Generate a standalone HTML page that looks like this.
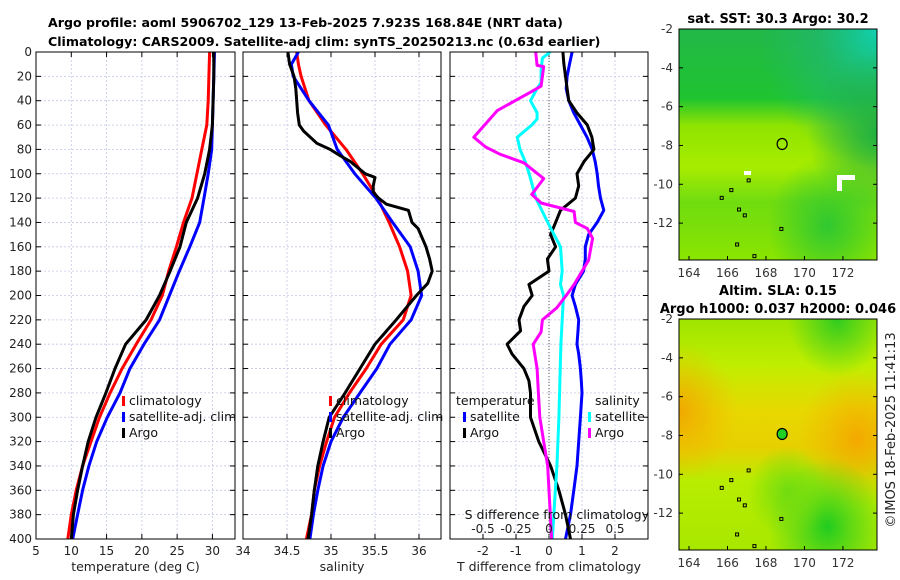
<!DOCTYPE html>
<html><head><meta charset="utf-8"><style>
html,body{margin:0;padding:0;background:#fff;}
svg{display:block;font-family:"DejaVu Sans","Liberation Sans",sans-serif;}
</style></head><body>
<svg id="fig" width="900" height="580" viewBox="0 0 900 580">
<defs>
<linearGradient id="sstBase" x1="0" y1="0" x2="0" y2="1">
<stop offset="0" stop-color="#22b848"/><stop offset="0.3" stop-color="#1fc430"/><stop offset="0.42" stop-color="#90e400"/><stop offset="0.6" stop-color="#a8ec00"/><stop offset="0.75" stop-color="#70dc10"/><stop offset="1" stop-color="#8ae400"/>
</linearGradient>
<radialGradient id="sstTeal" cx="1" cy="0" r="0.6"><stop offset="0" stop-color="#10d0b0"/><stop offset="0.5" stop-color="#20b870" stop-opacity="0.7"/><stop offset="1" stop-color="#20b870" stop-opacity="0"/></radialGradient>
<radialGradient id="sstRight" cx="1" cy="0.45" r="0.35"><stop offset="0" stop-color="#20b040"/><stop offset="1" stop-color="#20b040" stop-opacity="0"/></radialGradient>
<radialGradient id="sstLow" cx="0.75" cy="0.85" r="0.3"><stop offset="0" stop-color="#30c830"/><stop offset="1" stop-color="#30c830" stop-opacity="0"/></radialGradient>
<linearGradient id="slaBase" x1="0" y1="0" x2="0" y2="1">
<stop offset="0" stop-color="#9ee400"/><stop offset="0.2" stop-color="#c0ee00"/><stop offset="0.4" stop-color="#e8d800"/><stop offset="0.55" stop-color="#e8d000"/><stop offset="0.7" stop-color="#b8ec00"/><stop offset="1" stop-color="#a8e800"/>
</linearGradient>
<radialGradient id="slaOrL" cx="0" cy="0.4" r="0.3"><stop offset="0" stop-color="#f0a800"/><stop offset="1" stop-color="#f0b800" stop-opacity="0"/></radialGradient>
<radialGradient id="slaOrR" cx="0.9" cy="0.52" r="0.3"><stop offset="0" stop-color="#f4a800"/><stop offset="1" stop-color="#f0b800" stop-opacity="0"/></radialGradient>
<radialGradient id="slaGrB" cx="0.75" cy="0.9" r="0.3"><stop offset="0" stop-color="#20cc20"/><stop offset="1" stop-color="#40d020" stop-opacity="0"/></radialGradient>
<radialGradient id="slaGrT" cx="0.8" cy="0" r="0.25"><stop offset="0" stop-color="#30cc20"/><stop offset="1" stop-color="#40d020" stop-opacity="0"/></radialGradient>
<radialGradient id="slaGrM" cx="0.55" cy="0.75" r="0.2"><stop offset="0" stop-color="#70dc10"/><stop offset="1" stop-color="#70dc10" stop-opacity="0"/></radialGradient>
</defs>
<text x="48" y="27" font-size="12.6" font-weight="bold">Argo profile: aoml 5906702_129 13-Feb-2025 7.923S 168.84E (NRT data)</text>
<text x="48" y="46" font-size="12.6" font-weight="bold">Climatology: CARS2009. Satellite-adj clim: synTS_20250213.nc (0.63d earlier)</text>
<g id="panels"></g>
<g id="maps"></g>
</svg>
<script>
// ---------- data ----------
const depths=[0,20,40,60,80,100,120,140,160,180,200,220,240,260,280,300,320,340,360,380,400];
const tempClim=[29.6,29.5,29.4,29.2,28.5,27.8,27.1,25.9,24.9,23.8,22.9,21.3,19.2,17.2,15.5,14.0,12.8,11.6,10.7,10.0,9.5];
const tempSat=[30.3,30.2,30.1,30.0,29.9,29.4,28.8,28.2,26.8,25.3,23.9,22.5,20.3,18.3,16.9,15.1,13.6,12.5,11.6,10.9,10.2];
const tempArgo=[30.2,30.2,30.1,30.0,29.6,28.9,27.9,26.3,25.4,24.0,22.5,20.6,17.7,16.2,14.9,13.5,12.4,11.6,10.9,10.3,10.0];
const salDepths=[0,10,20,40,60,80,100,120,140,160,180,200,220,240,260,280,300,320,340,360,380,400];
const salClim=[34.61,34.63,34.66,34.75,34.94,35.17,35.36,35.53,35.66,35.78,35.87,35.91,35.82,35.57,35.40,35.21,35.04,34.95,34.87,34.81,34.78,34.72];
const salSat=[34.63,34.55,34.57,34.75,34.97,35.07,35.27,35.51,35.70,35.90,35.99,36.03,35.91,35.67,35.52,35.33,35.14,35.00,34.91,34.85,34.80,34.76];
const argoSalDepths=[0,10,20,30,50,60,65,75,80,85,90,100,103,110,115,120,125,130,140,145,160,170,180,190,200,220,240,260,280,300,320,340,360,380,400];
const salArgo=[34.51,34.53,34.58,34.60,34.62,34.64,34.69,34.84,34.99,35.10,35.22,35.39,35.50,35.48,35.48,35.54,35.63,35.88,35.92,35.99,36.08,36.12,36.15,36.10,35.97,35.74,35.50,35.33,35.16,34.98,34.91,34.85,34.81,34.78,34.74];
const dTDepths=[0,10,20,30,40,50,60,70,80,90,100,110,120,130,140,150,160,170,180,191,200,209,220,229,240,248,260,270,280,300,320,340,360,380,400];
const dTSat=[0.70,0.62,0.55,0.52,0.60,0.75,0.95,1.15,1.31,1.40,1.46,1.50,1.56,1.66,1.46,1.20,1.10,1.10,1.05,0.80,0.70,0.80,0.90,0.88,0.85,0.90,0.95,0.98,1.00,0.95,0.90,0.85,0.75,0.65,0.50];
const dTArgo=[0.42,0.45,0.50,0.55,0.60,0.85,1.16,1.30,1.36,1.06,0.85,0.90,0.80,0.35,0.20,0.05,0.20,-0.05,0.00,-0.61,-0.51,-0.76,-0.91,-0.86,-1.27,-1.12,-0.76,-0.61,-0.56,-0.56,-0.31,0.05,0.30,0.50,0.65];
const dSDepths=[0,5,15,25,30,40,50,55,60,70,80,90,100,120,140,160,180,191,200,220,240,300,340,380,400];
const dSSat=[0.01,-0.05,-0.06,-0.06,-0.09,-0.14,-0.09,-0.09,-0.13,-0.24,-0.22,-0.18,-0.15,-0.10,-0.01,0.087,0.10,0.087,0.11,0.10,0.09,0.075,0.06,0.036,0.025];
const dSArgoDepths=[0,1,11,12,28,33,48,70,78,84,91,104,117,124,131,140,145,153,171,191,200,210,220,230,240,260,280,300,320,340,360,380,400];
const dSArgo=[-0.10,-0.10,-0.09,-0.04,-0.06,-0.14,-0.39,-0.57,-0.48,-0.37,-0.19,-0.04,-0.13,-0.06,0.19,0.20,0.29,0.33,0.30,0.19,0.13,0.06,-0.05,-0.06,-0.12,-0.09,-0.08,-0.07,-0.04,-0.01,0.0,0.01,0.02];
const depthTicks=[0,20,40,60,80,100,120,140,160,180,200,220,240,260,280,300,320,340,360,380,400];
const tempTicks=[5,10,15,20,25,30];
const salTicks=[34,34.5,35,35.5,36];
const salTickLabels=["34","34.5","35","35.5","36"];
const dTTicks=[-2,-1,0,1,2];
const dSTicks=[-0.5,-0.25,0,0.25,0.5];
const dSTickLabels=["-0.5","-0.25","0","0.25","0.5"];
const lonTicks=[164,166,168,170,172];
const latTicks=[-2,-4,-6,-8,-10,-12];
const argoLon=[168.84];
const argoLat=[-7.923];

const NS="http://www.w3.org/2000/svg";
function mk(tag,attrs,parent,name,inter){const e=document.createElementNS(NS,tag);for(const k in attrs)e.setAttribute(k,attrs[k]);


parent.appendChild(e);return e;}
const Y0=52,Y1=539;
function yScale(d){return Y0+(d/400)*(Y1-Y0);}
const G=document.getElementById('panels');

function panel(name,x0,x1,xmin,xmax,ticks,labels,showY,xlabel){
  const g=mk('g',{},G,name,false);
  const xs=v=>x0+(v-xmin)/(xmax-xmin)*(x1-x0);
  mk('rect',{x:x0,y:Y0,width:x1-x0,height:Y1-Y0,fill:'#fff'},g,name+'-background',false);
  depthTicks.forEach((d,i)=>{if(i>0&&i<depthTicks.length-1)mk('line',{x1:x0,x2:x1,y1:yScale(d),y2:yScale(d),stroke:'#c4c8e4','stroke-width':0.8,'stroke-dasharray':'2,2'},g,'y-gridline',false);});
  ticks.forEach(t=>{const x=xs(t);mk('line',{x1:x,x2:x,y1:Y0,y2:Y1,stroke:'#c4c8e4','stroke-width':0.8,'stroke-dasharray':'2,2'},g,'x-gridline',false);
    mk('line',{x1:x,x2:x,y1:Y1,y2:Y1-5,stroke:'#000'},g,'x-tick',false);mk('line',{x1:x,x2:x,y1:Y0,y2:Y0+5,stroke:'#000'},g,'x-tick',false);
    const tx=mk('text',{x:x,y:Y1+16,'font-size':12,'text-anchor':'middle',fill:'#222'},g,'x-tick-label',false);tx.textContent=labels[ticks.indexOf(t)];});
  depthTicks.forEach(d=>{const y=yScale(d);mk('line',{x1:x0,x2:x0+5,y1:y,y2:y,stroke:'#000'},g,'y-tick',false);mk('line',{x1:x1,x2:x1-5,y1:y,y2:y,stroke:'#000'},g,'y-tick',false);
    if(showY){const t=mk('text',{x:x0-4,y:y+4,'font-size':12,'text-anchor':'end',fill:'#222'},g,'y-tick-label',false);t.textContent=d;}});
  const xl=mk('text',{x:(x0+x1)/2,y:Y1+32,'font-size':12.5,'text-anchor':'middle',fill:'#222'},g,name+'-x-axis-title',false);xl.textContent=xlabel;
  return {g,xs};
}
function line(p,xs,vals,ds,color,name,w){
  const pts=vals.map((v,i)=>xs(v).toFixed(1)+','+yScale(ds[i]).toFixed(1)).join(' ');
  mk('polyline',{points:pts,fill:'none',stroke:color,'stroke-width':w||3,'stroke-linejoin':'round'},p.g,name,false);
}
function frame(p,x0,x1){mk('rect',{x:x0,y:Y0,width:x1-x0,height:Y1-Y0,fill:'none',stroke:'#000','stroke-width':1},p.g,'axes-frame',false);}
function legendEntry(g,x,y,color,label,name){mk('rect',{x:x-2,y:y-9,width:3,height:10,fill:color},g,name+'-marker',false);
  const t=mk('text',{x:x+5,y:y,'font-size':12.5,fill:'#111'},g,name,false);t.textContent=label;}

const p1=panel('temperature-panel',36,235,5,33.2,tempTicks,tempTicks.map(String),true,'temperature (deg C)');
line(p1,p1.xs,tempClim,depths,'#ff0000','temp-climatology-line');
line(p1,p1.xs,tempSat,depths,'#0000ff','temp-satellite-line');
line(p1,p1.xs,tempArgo,depths,'#000','temp-argo-line');
frame(p1,36,235);
legendEntry(p1.g,124,405,'#ff0000','climatology','legend-climatology');
legendEntry(p1.g,124,421,'#0000ff','satellite-adj. clim','legend-satellite');
legendEntry(p1.g,124,437,'#000','Argo','legend-argo');

const p2=panel('salinity-panel',243,441,34,36.25,salTicks,salTickLabels,false,'salinity');
line(p2,p2.xs,salClim,salDepths,'#ff0000','sal-climatology-line');
line(p2,p2.xs,salSat,salDepths,'#0000ff','sal-satellite-line');
line(p2,p2.xs,salArgo,argoSalDepths,'#000','sal-argo-line');
frame(p2,243,441);
legendEntry(p2.g,331,405,'#ff0000','climatology','legend-climatology');
legendEntry(p2.g,331,421,'#0000ff','satellite-adj. clim','legend-satellite');
legendEntry(p2.g,331,437,'#000','Argo','legend-argo');

const p3=panel('difference-panel',450,648,-3,3,dTTicks,dTTicks.map(String),false,'T difference from climatology');
const sx=v=>450+(v+0.75)/1.5*198;
mk('line',{x1:p3.xs(0),x2:p3.xs(0),y1:Y0,y2:Y1,stroke:'#555','stroke-width':1,'stroke-dasharray':'1,2'},p3.g,'zero-line',false);
line(p3,p3.xs,dTSat,dTDepths,'#0000ff','dT-satellite-line');
line(p3,p3.xs,dTArgo,dTDepths,'#000','dT-argo-line');
line(p3,sx,dSSat,dSDepths,'#00ffff','dS-satellite-line');
line(p3,sx,dSArgo,dSArgoDepths,'#ff00ff','dS-argo-line');
frame(p3,450,648);
dSTicks.forEach((t,i)=>{const tx=mk('text',{x:sx(t),y:533,'font-size':12,'text-anchor':'middle',fill:'#222'},p3.g,'s-diff-tick-label',false);tx.textContent=dSTickLabels[i];});
{const t=mk('text',{x:649,y:519,'font-size':12.5,'text-anchor':'end',fill:'#111'},p3.g,'s-diff-axis-title',false);t.textContent='S difference from climatology';}
{const t=mk('text',{x:456,y:405,'font-size':12.5,fill:'#111'},p3.g,'legend-temperature-heading',false);t.textContent='temperature';}
{const t=mk('text',{x:595,y:405,'font-size':12.5,fill:'#111'},p3.g,'legend-salinity-heading',false);t.textContent='salinity';}
legendEntry(p3.g,465,421,'#0000ff','satellite','legend-t-satellite');
legendEntry(p3.g,465,437,'#000','Argo','legend-t-argo');
legendEntry(p3.g,590,421,'#00ffff','satellite','legend-s-satellite');
legendEntry(p3.g,590,437,'#ff00ff','Argo','legend-s-argo');

const M=document.getElementById('maps');
function map(name,top,titles,layers,filled){
  const g=mk('g',{},M,name,false);
  const x0=679,x1=877,y1=top+231;
  const lx=v=>x0+(v-163.48)/(173.77-163.48)*(x1-x0);
  const ly=v=>top+(-2-v)/(11.9)*(y1-top);
  layers.forEach(l=>mk('rect',{x:x0,y:top,width:x1-x0,height:y1-top,fill:'url(#'+l+')'},g,name+'-field',false));
  [[165.7,-10.7],[166.2,-10.3],[166.6,-11.3],[166.9,-11.6],[167.1,-9.8],[166.5,-13.1],[167.4,-13.7],[168.8,-12.3]].forEach(c=>mk('rect',{x:lx(c[0])-1.5,y:ly(c[1])-1.5,width:3,height:3,fill:'none',stroke:'#000','stroke-width':1},g,'island',false));
  mk('rect',{x:x0,y:top,width:x1-x0,height:y1-top,fill:'none',stroke:'#000'},g,name+'-frame',false);
  lonTicks.forEach(t=>{const x=lx(t);mk('line',{x1:x,x2:x,y1:y1,y2:y1-4,stroke:'#000'},g,'lon-tick',false);
    const tx=mk('text',{x:x,y:y1+17,'font-size':12,'text-anchor':'middle',fill:'#333'},g,'lon-tick-label',false);tx.textContent=t;});
  latTicks.forEach(t=>{const y=ly(t);mk('line',{x1:x0,x2:x0+4,y1:y,y2:y,stroke:'#000'},g,'lat-tick',false);mk('line',{x1:x1,x2:x1-4,y1:y,y2:y,stroke:'#000'},g,'lat-tick',false);
    const tx=mk('text',{x:x0-6,y:y+4,'font-size':12,'text-anchor':'end',fill:'#333'},g,'lat-tick-label',false);tx.textContent=t;});
  mk('ellipse',{cx:lx(argoLon[0]),cy:ly(argoLat[0]),rx:5,ry:5.5,fill:filled?'#22d022':'none',stroke:'#000','stroke-width':1.2},g,'argo-location-marker',false);
  titles.forEach((t,i)=>{const tx=mk('text',{x:778,y:top-(titles.length-1-i)*18-6,'font-size':13,'font-weight':'bold','text-anchor':'middle'},g,name+'-title',false);tx.textContent=t;});
}
map('sst-map',29,['sat. SST: 30.3 Argo: 30.2'],['sstBase','sstTeal','sstRight','sstLow'],false);
{const g=M;mk('rect',{x:744,y:171,width:7,height:4,fill:'#fff'},g,'missing-data',false);mk('rect',{x:837,y:175,width:18,height:5,fill:'#fff'},g,'missing-data',false);mk('rect',{x:837,y:175,width:5,height:16,fill:'#fff'},g,'missing-data',false);}
map('sla-map',319,['Altim. SLA: 0.15','Argo h1000: 0.037 h2000: 0.046'],['slaBase','slaOrL','slaOrR','slaGrB','slaGrT','slaGrM'],true);
{const t=mk('text',{x:0,y:0,'font-size':13,'text-anchor':'middle',fill:'#222',transform:'translate(895,430) rotate(-90)'},M,'copyright-timestamp',false);t.textContent='©IMOS 18-Feb-2025 11:41:13';}
</script>
</body></html>
